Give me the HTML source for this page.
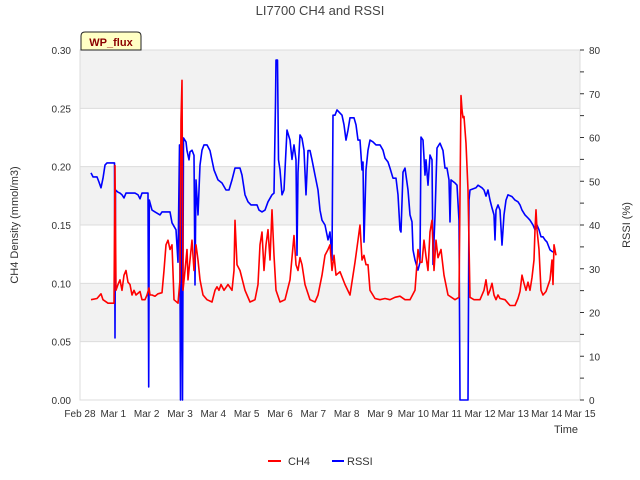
<!DOCTYPE html>
<html><head><meta charset="utf-8"><style>
body{margin:0;background:#fff;}
svg{display:block;font-family:"Liberation Sans","DejaVu Sans",sans-serif;}
</style></head><body>
<svg id="chart" width="640" height="480"></svg>
<script>
const xTickLabels=["Feb 28","Mar 1","Mar 2","Mar 3","Mar 4","Mar 5","Mar 6","Mar 7","Mar 8","Mar 9","Mar 10","Mar 11","Mar 12","Mar 13","Mar 14","Mar 15"];
const leftTicks=[0,0.05,0.10,0.15,0.20,0.25,0.30];
const rightTicks=[0,10,20,30,40,50,60,70,80];
const ch4Series=[[0.33,0.086],[0.51,0.087],[0.63,0.091],[0.69,0.086],[0.84,0.083],[1.02,0.083],[1.05,0.201],[1.08,0.094],[1.14,0.099],[1.2,0.103],[1.26,0.094],[1.32,0.107],[1.38,0.111],[1.44,0.101],[1.5,0.099],[1.56,0.09],[1.62,0.094],[1.68,0.09],[1.8,0.093],[1.86,0.086],[1.95,0.086],[2.01,0.09],[2.07,0.096],[2.1,0.09],[2.16,0.09],[2.25,0.089],[2.34,0.091],[2.46,0.092],[2.52,0.111],[2.58,0.133],[2.64,0.137],[2.7,0.129],[2.76,0.133],[2.82,0.086],[2.94,0.083],[3.0,0.103],[3.03,0.24],[3.06,0.274],[3.09,0.094],[3.15,0.111],[3.21,0.129],[3.24,0.103],[3.3,0.12],[3.36,0.137],[3.42,0.111],[3.48,0.133],[3.54,0.12],[3.6,0.103],[3.69,0.09],[3.81,0.086],[3.96,0.084],[4.05,0.094],[4.11,0.097],[4.17,0.094],[4.23,0.099],[4.32,0.094],[4.44,0.099],[4.56,0.094],[4.62,0.111],[4.65,0.154],[4.71,0.116],[4.8,0.111],[4.95,0.094],[5.1,0.084],[5.25,0.086],[5.34,0.099],[5.4,0.133],[5.46,0.144],[5.52,0.111],[5.58,0.133],[5.64,0.146],[5.7,0.12],[5.76,0.163],[5.82,0.124],[5.88,0.094],[6.0,0.084],[6.15,0.086],[6.3,0.103],[6.42,0.141],[6.48,0.116],[6.54,0.111],[6.6,0.122],[6.66,0.116],[6.75,0.099],[6.9,0.086],[7.05,0.084],[7.14,0.09],[7.26,0.107],[7.35,0.124],[7.44,0.129],[7.5,0.133],[7.56,0.111],[7.62,0.124],[7.68,0.107],[7.8,0.11],[7.95,0.099],[8.1,0.09],[8.25,0.118],[8.34,0.137],[8.4,0.15],[8.46,0.12],[8.52,0.124],[8.58,0.116],[8.64,0.116],[8.7,0.094],[8.85,0.087],[9.0,0.086],[9.15,0.087],[9.3,0.086],[9.45,0.088],[9.6,0.089],[9.75,0.086],[9.9,0.086],[10.05,0.094],[10.14,0.129],[10.2,0.118],[10.26,0.118],[10.32,0.137],[10.38,0.123],[10.44,0.111],[10.5,0.144],[10.56,0.154],[10.62,0.111],[10.68,0.137],[10.74,0.122],[10.83,0.129],[10.92,0.107],[11.04,0.09],[11.25,0.086],[11.37,0.088],[11.43,0.261],[11.46,0.249],[11.49,0.242],[11.52,0.243],[11.58,0.22],[11.64,0.18],[11.7,0.088],[11.82,0.086],[12.0,0.086],[12.12,0.094],[12.18,0.103],[12.24,0.09],[12.3,0.094],[12.36,0.1],[12.42,0.09],[12.48,0.086],[12.54,0.09],[12.6,0.087],[12.75,0.086],[12.9,0.081],[13.05,0.081],[13.14,0.087],[13.2,0.093],[13.26,0.107],[13.32,0.1],[13.38,0.094],[13.44,0.101],[13.5,0.094],[13.56,0.105],[13.62,0.12],[13.65,0.146],[13.68,0.163],[13.71,0.146],[13.77,0.129],[13.83,0.094],[13.89,0.09],[13.98,0.093],[14.1,0.103],[14.16,0.12],[14.19,0.099],[14.22,0.133],[14.28,0.124]];
const rssiSeries=[[0.33,51.9],[0.39,51],[0.51,51],[0.57,49.8],[0.63,48.5],[0.69,50.7],[0.75,53.7],[0.81,54.2],[1.035,54.2],[1.05,14.2],[1.065,48],[1.14,47.5],[1.2,47.3],[1.26,46.9],[1.32,46.2],[1.38,47.3],[1.65,47.3],[1.74,46.9],[1.8,46],[1.86,47.3],[2.04,47.3],[2.06,3],[2.08,45.7],[2.16,43.4],[2.25,43],[2.4,42.3],[2.46,43],[2.7,43],[2.76,40.5],[2.88,38.9],[2.94,31.5],[2.985,58.3],[3.015,0],[3.045,59],[3.075,0],[3.105,59.9],[3.18,59],[3.21,57],[3.27,54.9],[3.3,56.7],[3.36,57.1],[3.42,55.9],[3.45,26.3],[3.48,50.3],[3.54,42.3],[3.6,53.7],[3.66,57.1],[3.72,58.3],[3.81,58.3],[3.9,57],[4.02,52.6],[4.14,50.3],[4.26,49.6],[4.38,48],[4.47,48],[4.56,50.3],[4.65,53],[4.8,53],[4.86,51.4],[4.95,46.9],[5.04,45.3],[5.13,44.6],[5.31,44.6],[5.37,43.4],[5.46,43],[5.55,43.4],[5.64,45.3],[5.76,46.9],[5.82,47.3],[5.865,68],[5.88,77.7],[5.925,77.7],[5.955,54.9],[6.0,52.6],[6.06,46.9],[6.12,48],[6.21,61.7],[6.3,59.4],[6.36,55],[6.42,58.3],[6.48,54.9],[6.51,33.1],[6.54,52],[6.6,60.6],[6.66,59.8],[6.72,57.1],[6.78,46.9],[6.84,57],[6.9,57],[6.96,54.9],[7.05,51.4],[7.14,48],[7.2,43.4],[7.26,41.1],[7.35,40],[7.44,36.6],[7.5,38.4],[7.56,32],[7.59,65.1],[7.65,65.1],[7.71,66.3],[7.86,65.1],[7.92,62.9],[7.98,59.4],[8.04,61.7],[8.1,64.5],[8.22,64.5],[8.28,62.9],[8.34,59.4],[8.4,59.4],[8.46,52.6],[8.49,54.4],[8.52,36.1],[8.58,52.6],[8.64,57.1],[8.7,59.4],[8.79,59],[8.88,58.3],[9.0,58.3],[9.09,57.1],[9.15,55.3],[9.24,54.4],[9.3,53],[9.39,50.7],[9.48,50.7],[9.54,46.9],[9.6,38.9],[9.63,38.4],[9.69,52.1],[9.75,53],[9.84,48],[9.9,42.3],[9.96,40.7],[9.99,34.3],[10.05,32],[10.14,29.7],[10.2,31.5],[10.23,60.1],[10.29,59.4],[10.35,51.4],[10.38,54.9],[10.44,49.1],[10.5,56],[10.56,54.9],[10.59,31],[10.65,42],[10.71,57.6],[10.8,58.7],[10.89,57],[10.95,53],[11.01,53],[11.07,50.3],[11.1,40.7],[11.13,50.3],[11.25,49.6],[11.31,49.1],[11.37,41],[11.4,0],[11.64,0],[11.67,45.7],[11.7,48],[11.88,48.5],[11.94,49.1],[12.06,48.5],[12.12,48],[12.18,46.6],[12.24,48],[12.3,45.7],[12.36,43.9],[12.42,42.3],[12.45,36.6],[12.48,43.4],[12.54,44.6],[12.6,43.4],[12.66,35.4],[12.72,42.3],[12.78,45.7],[12.84,46.9],[12.96,46.5],[13.05,45.7],[13.14,45.3],[13.2,44.6],[13.26,43.4],[13.35,42.3],[13.44,41.6],[13.5,41.1],[13.59,40],[13.65,38.9],[13.71,40],[13.77,38.9],[13.83,37.3],[13.89,37.3],[13.95,36.6],[14.01,36.1],[14.1,34.3],[14.19,33.8]];

const L=80,R=580,T=50,B=400;
const xS=d=>L+d*(R-L)/15;
const yL=v=>B-v/0.3*(B-T);
const yR=v=>B-v/80*(B-T);
const svg=document.getElementById('chart');
const NS='http://www.w3.org/2000/svg';
function mk(tag,attrs,parent){const e=document.createElementNS(NS,tag);for(const k in attrs)e.setAttribute(k,attrs[k]);(parent||svg).appendChild(e);return e;}

// bands
[[0.25,0.30],[0.15,0.20],[0.05,0.10]].forEach(b=>{
  const r=mk('rect',{x:L,y:yL(b[1]),width:R-L,height:yL(b[0])-yL(b[1]),fill:'#f2f2f2'});
  
  
});
leftTicks.forEach(v=>{
  const g=mk('line',{x1:L,x2:R,y1:yL(v),y2:yL(v),stroke:'#dcdcdc','stroke-width':1});
  
  
  const t=mk('text',{x:L-9,y:yL(v)+4,'text-anchor':'end','font-size':10,fill:'#333'});
  t.textContent=v.toFixed(2);
  
  
});
const frame=mk('rect',{x:L,y:T,width:R-L,height:B-T,fill:'none',stroke:'#dcdcdc'});


rightTicks.forEach(v=>{
  const t=mk('text',{x:R+9,y:yR(v)+4,'font-size':10,fill:'#333'});
  t.textContent=v;
  
  
  mk('line',{x1:R,x2:R+4,y1:yR(v),y2:yR(v),stroke:'#333'});
  if(v<80)mk('line',{x1:R,x2:R+4,y1:yR(v+5),y2:yR(v+5),stroke:'#333'});
});
xTickLabels.forEach((s,i)=>{
  const t=mk('text',{x:xS(i),y:B+17,'text-anchor':'middle','font-size':10,fill:'#333'});
  t.textContent=s;
  
  
});
function line(data,yf,color,name){
  const p=mk('polyline',{points:data.map(d=>xS(d[0]).toFixed(1)+','+yf(d[1]).toFixed(1)).join(' '),fill:'none',stroke:color,'stroke-width':1.6,'stroke-linejoin':'round'});
  
  
}
line(rssiSeries,yR,'#0000ff','rssi-line');
line(ch4Series,yL,'#ff0000','ch4-line');
</script>
<svg style="position:absolute;left:0;top:0" width="640" height="480">
<text x="320" y="15" text-anchor="middle" font-size="13" fill="#444" font-family="Liberation Sans,sans-serif">LI7700 CH4 and RSSI</text>
<text transform="translate(18,225) rotate(-90)" text-anchor="middle" font-size="11" fill="#333" font-family="Liberation Sans,sans-serif">CH4 Density (mmol/m3)</text>
<text transform="translate(630,225) rotate(-90)" text-anchor="middle" font-size="11" fill="#333" font-family="Liberation Sans,sans-serif">RSSI (%)</text>
<text x="566" y="433" text-anchor="middle" font-size="11" fill="#333" font-family="Liberation Sans,sans-serif">Time</text>
<path d="M81,50 L81,36 Q81,32 85,32 L137,32 Q141,32 141,36 L141,50 Z" fill="#ffffc4" stroke="#222" stroke-width="1"/>
<text x="111" y="46" text-anchor="middle" font-size="11" font-weight="bold" fill="#8b0000" font-family="Liberation Sans,sans-serif">WP_flux</text>
<g>
<line x1="268" x2="281" y1="461" y2="461" stroke="#ff0000" stroke-width="2"/>
<text x="288" y="465" font-size="11" fill="#333" font-family="Liberation Sans,sans-serif">CH4</text>
<line x1="332" x2="344" y1="461" y2="461" stroke="#0000ff" stroke-width="2"/>
<text x="347" y="465" font-size="11" fill="#333" font-family="Liberation Sans,sans-serif">RSSI</text>
</g>
</svg>
</body></html>
